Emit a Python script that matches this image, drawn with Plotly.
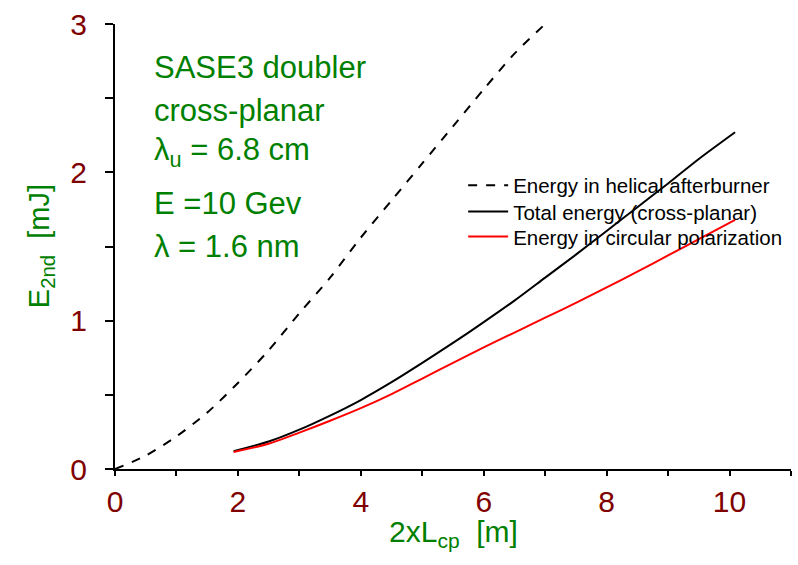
import plotly.graph_objects as go

# ---- data ----
helical_x = [0, 0.5, 1.0, 1.5, 2.0, 2.5, 3.0, 3.5, 4.0, 4.5, 5.0, 5.5, 6.0, 6.5, 7.0]
helical_y = [0, 0.09, 0.22, 0.38, 0.58, 0.80, 1.05, 1.29, 1.56, 1.81, 2.06, 2.31, 2.56, 2.80, 3.0]

total_x = [1.93, 2.5, 3.0, 3.5, 4.0, 4.5, 5.0, 5.5, 6.0, 6.5, 7.0, 7.5, 8.0, 8.5, 9.0, 9.5, 10.09]
total_y = [0.12, 0.185, 0.265, 0.36, 0.465, 0.585, 0.715, 0.85, 0.99, 1.135, 1.29, 1.445, 1.605,
           1.765, 1.925, 2.09, 2.27]

circ_x = [1.93, 2.5, 3.0, 3.5, 4.0, 4.5, 5.0, 5.5, 6.0, 6.5, 7.0, 7.5, 8.0, 8.5, 9.0, 9.5, 10.09]
circ_y = [0.115, 0.17, 0.245, 0.325, 0.41, 0.505, 0.61, 0.715, 0.82, 0.92, 1.02, 1.12, 1.225,
          1.33, 1.44, 1.55, 1.68]

series_names = ["Energy in helical afterburner", "Total energy (cross-planar)",
                "Energy in circular polarization"]

x_tickvals = [0, 2, 4, 6, 8, 10]
x_ticktext = ["0", "2", "4", "6", "8", "10"]
y_tickvals = [0, 1, 2, 3]
y_ticktext = ["0", "1", "2", "3"]

info_lines = ["SASE3 doubler", "cross-planar", "λ<sub>u</sub> = 6.8 cm", "E =10 Gev", "λ = 1.6 nm"]
info_y = [2.71, 2.42, 2.14, 1.79, 1.50]

FONT = "Liberation Sans, Arial, sans-serif"
RED = "#800000"
GREEN = "#008000"

fig = go.Figure()
fig.add_trace(go.Scatter(x=helical_x, y=helical_y, mode="lines", name=series_names[0],
                         legend="legend",
                         line=dict(color="black", width=2, dash="9px,9px", shape="spline",
                                   smoothing=0.8)))
fig.add_trace(go.Scatter(x=total_x, y=total_y, mode="lines", name=series_names[1],
                         legend="legend2",
                         line=dict(color="black", width=2, shape="spline", smoothing=0.8)))
fig.add_trace(go.Scatter(x=circ_x, y=circ_y, mode="lines", name=series_names[2],
                         legend="legend3",
                         line=dict(color="#ff0000", width=2, shape="spline", smoothing=0.8)))

W, H = 798, 565
ml, mr, mt, mb = 114.5, 7.3, 21.3, 95.7


def leg(ytop):
    return dict(x=0.515, y=ytop, xanchor="left", yanchor="top",
                font=dict(size=20.5, color="black", family=FONT),
                bgcolor="rgba(0,0,0,0)", itemwidth=40)


fig.update_layout(
    width=W, height=H,
    margin=dict(l=ml, r=mr, t=mt, b=mb, pad=0),
    paper_bgcolor="white", plot_bgcolor="white",
    font=dict(family=FONT),
    showlegend=True,
    legend=leg(0.682), legend2=leg(0.623), legend3=leg(0.567),
    xaxis=dict(range=[0, 11], showgrid=False, zeroline=False, showline=True,
               linecolor="black", linewidth=2,
               tickvals=x_tickvals, ticktext=x_ticktext,
               ticks="outside", ticklen=5, tickwidth=2, tickcolor="black",
               minor=dict(dtick=1, tick0=0, ticks="outside", ticklen=5, tickwidth=2,
                          tickcolor="black", showgrid=False),
               tickfont=dict(size=30, color=RED, family=FONT)),
    yaxis=dict(range=[0, 3], showgrid=False, zeroline=False, showline=True,
               linecolor="black", linewidth=2,
               tickvals=y_tickvals, ticktext=y_ticktext,
               ticks="outside", ticklen=8, tickwidth=2, tickcolor="black",
               ticklabelstandoff=12,
               minor=dict(dtick=0.5, tick0=0, ticks="outside", ticklen=8, tickwidth=2,
                          tickcolor="black", showgrid=False),
               tickfont=dict(size=30, color=RED, family=FONT)),
    xaxis2=dict(range=[0, 11], overlaying="x", side="top", showgrid=False, zeroline=False,
                showline=True, linecolor="black", linewidth=2, showticklabels=False,
                dtick=1, tick0=0, ticks="inside", ticklen=5, tickwidth=2, tickcolor="black"),
    yaxis2=dict(range=[0, 3], overlaying="y", side="right", showgrid=False, zeroline=False,
                showline=True, linecolor="black", linewidth=2, showticklabels=False,
                dtick=0.5, tick0=0, ticks="inside", ticklen=6, tickwidth=2, tickcolor="black"),
)

annotations = []
for txt, yy in zip(info_lines, info_y):
    annotations.append(dict(text=txt, x=0.6, y=yy, xref="x", yref="y", xanchor="left",
                            yanchor="middle", showarrow=False,
                            font=dict(size=31, color=GREEN, family=FONT)))
annotations.append(dict(text="E<sub>2nd</sub>\u00a0\u00a0[mJ]", x=-0.11, y=0.5,
                        xref="paper", yref="paper", textangle=-90, showarrow=False,
                        xanchor="center", yanchor="middle",
                        font=dict(size=29, color=GREEN, family=FONT)))
annotations.append(dict(text="2xL<sub>cp</sub>\u00a0\u00a0[m]", x=0.5, y=-0.145,
                        xref="paper", yref="paper", showarrow=False,
                        xanchor="center", yanchor="middle",
                        font=dict(size=30, color=GREEN, family=FONT)))
fig.update_layout(annotations=annotations)

fig.write_html("out.html")
